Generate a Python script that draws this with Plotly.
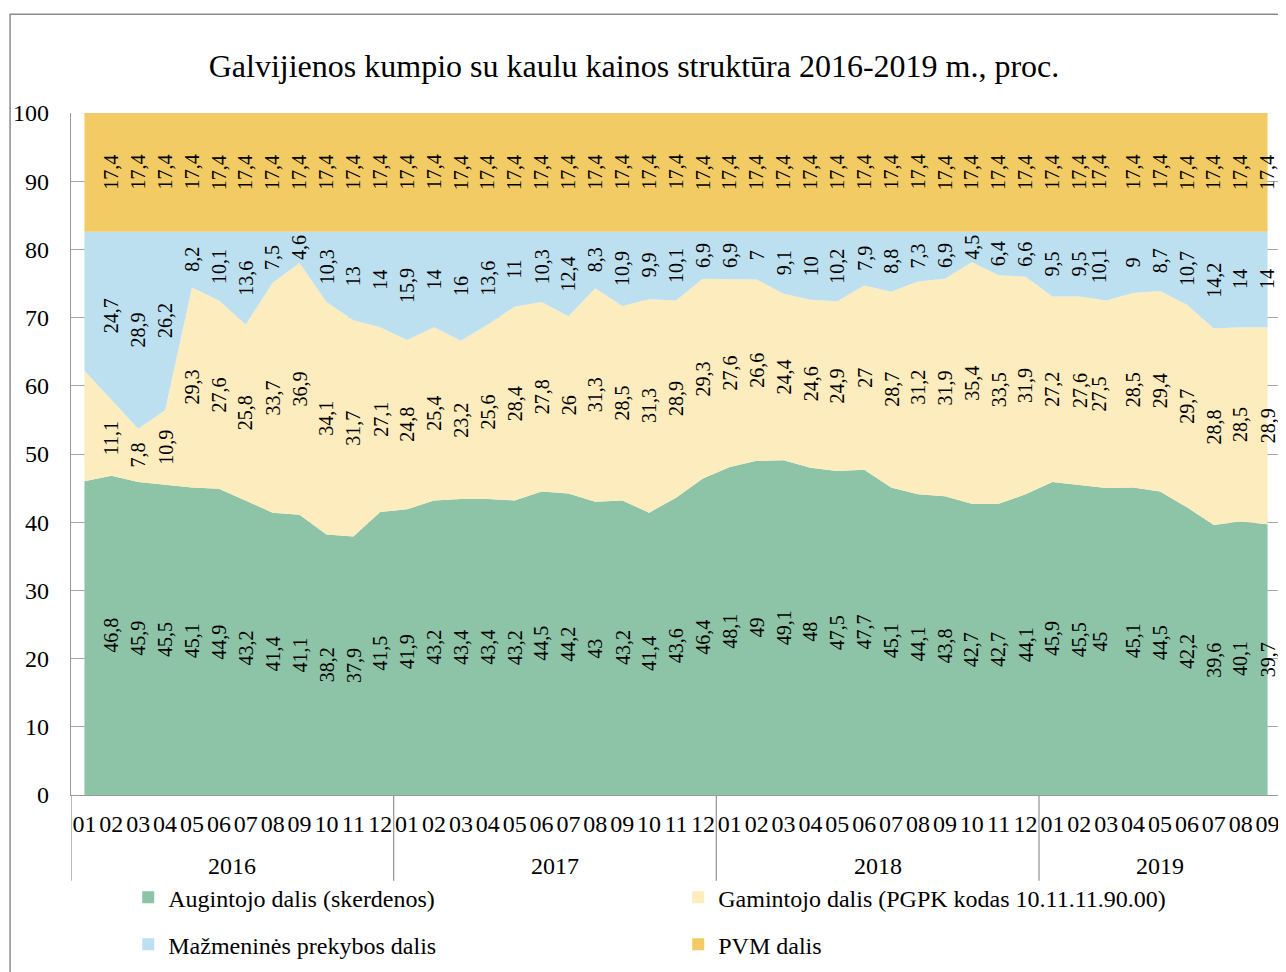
import plotly.graph_objects as go

years = ["2016"] * 12 + ["2017"] * 12 + ["2018"] * 12 + ["2019"] * 9
months = [f"{m:02d}" for m in range(1, 13)] * 3 + [f"{m:02d}" for m in range(1, 10)]

augintojo = [46.0, 46.8, 45.9, 45.5, 45.1, 44.9, 43.2, 41.4, 41.1, 38.2, 37.9, 41.5,
             41.9, 43.2, 43.4, 43.4, 43.2, 44.5, 44.2, 43.0, 43.2, 41.4, 43.6, 46.4,
             48.1, 49.0, 49.1, 48.0, 47.5, 47.7, 45.1, 44.1, 43.8, 42.7, 42.7, 44.1,
             45.9, 45.5, 45.0, 45.1, 44.5, 42.2, 39.6, 40.1, 39.7]
gamintojo = [16.2, 11.1, 7.8, 10.9, 29.3, 27.6, 25.8, 33.7, 36.9, 34.1, 31.7, 27.1,
             24.8, 25.4, 23.2, 25.6, 28.4, 27.8, 26.0, 31.3, 28.5, 31.3, 28.9, 29.3,
             27.6, 26.6, 24.4, 24.6, 24.9, 27.0, 28.7, 31.2, 31.9, 35.4, 33.5, 31.9,
             27.2, 27.6, 27.5, 28.5, 29.4, 29.7, 28.8, 28.5, 28.9]
mazmenine = [20.4, 24.7, 28.9, 26.2, 8.2, 10.1, 13.6, 7.5, 4.6, 10.3, 13.0, 14.0,
             15.9, 14.0, 16.0, 13.6, 11.0, 10.3, 12.4, 8.3, 10.9, 9.9, 10.1, 6.9,
             6.9, 7.0, 9.1, 10.0, 10.2, 7.9, 8.8, 7.3, 6.9, 4.5, 6.4, 6.6,
             9.5, 9.5, 10.1, 9.0, 8.7, 10.7, 14.2, 14.0, 14.0]
pvm = [17.4] * 45

series_names = ["Augintojo dalis (skerdenos)",
                "Gamintojo dalis (PGPK kodas 10.11.11.90.00)",
                "Mažmeninės prekybos dalis",
                "PVM dalis"]
series_values = [augintojo, gamintojo, mazmenine, pvm]
colors = ["#8DC3A7", "#FDECBE", "#BDE0F0", "#F3CB64"]

FONT = "Liberation Serif"
GRAY = "#9a9a9a"

categories = [f"{y}-{m}" for y, m in zip(years, months)]
n = len(categories)

fig = go.Figure()
for name, vals, col in zip(series_names, series_values, colors):
    fig.add_trace(go.Scatter(
        x=categories, y=vals, name=name, mode="lines", stackgroup="one",
        line=dict(width=0, color=col), fillcolor=col, showlegend=False,
        hoverinfo="skip"))

# legend-only swatches
for k, (name, col) in enumerate(zip(series_names, colors)):
    fig.add_trace(go.Bar(
        x=[None], y=[None], name=name, marker=dict(color=col, line=dict(width=0)),
        xaxis="x2", yaxis="y2", legend="legend" if k < 2 else "legend2"))


def fmt(v):
    return str(int(v)) if float(v).is_integer() else str(v).replace(".", ",")


annotations = []
for i in range(1, n):
    base = 0.0
    shift = -7 if i == 38 else 0
    for vals in series_values:
        v = vals[i]
        annotations.append(dict(
            x=i, y=base + v / 2, xref="x", yref="y", text=fmt(v),
            showarrow=False, textangle=-90, xshift=shift,
            font=dict(family=FONT, size=20, color="black")))
        base += v

# year group labels and dividers
year_list = sorted(set(years))
shapes = []
bounds = [-0.5]
for yv in year_list:
    idx = [i for i, y in enumerate(years) if y == yv]
    annotations.append(dict(
        x=(idx[0] + idx[-1]) / 2, y=(797 - 868) / 684, xref="x", yref="paper",
        text=yv, showarrow=False, yanchor="middle",
        font=dict(family=FONT, size=24, color="black")))
    bounds.append(idx[-1] + 0.5)
for b in bounds:
    shapes.append(dict(type="line", xref="x", yref="paper", x0=b, x1=b,
                       y0=0, y1=(797 - 883) / 684,
                       line=dict(color=GRAY, width=1.3)))

# outer chart frame
shapes.append(dict(type="rect", xref="paper", yref="paper",
                   x0=-61 / 1212, x1=1.05, y0=-0.3, y1=(797 - 14) / 684,
                   line=dict(color="#8c8c8c", width=1.5), fillcolor="rgba(0,0,0,0)",
                   layer="below"))

W, H = 1278, 964
fig.update_layout(
    width=W, height=H,
    margin=dict(l=61, r=5, t=105, b=175),
    paper_bgcolor="white", plot_bgcolor="white",
    font=dict(family=FONT, size=24, color="black"),
    title=dict(text="Galvijienos kumpio su kaulu kainos struktūra 2016-2019 m., proc.",
               x=626 / W, xref="container", xanchor="center",
               y=1 - 58 / H, yref="container", yanchor="middle",
               font=dict(family=FONT, size=32, color="black")),
    xaxis=dict(type="category", range=[-0.5, n - 0.5],
               tickmode="array", tickvals=categories, ticktext=months,
               tickfont=dict(family=FONT, size=24, color="black"),
               showline=True, linecolor=GRAY, linewidth=1.3,
               showgrid=False, tickangle=0, ticks="", ticklabelstandoff=7,
               zeroline=False),
    yaxis=dict(range=[0, 100], dtick=10, tickfont=dict(family=FONT, size=24, color="black"),
               showgrid=True, gridcolor="#a6a6a6", gridwidth=1.3,
               showline=True, linecolor=GRAY, linewidth=1.3,
               ticks="", ticklabelstandoff=16, zeroline=False),
    xaxis2=dict(visible=False, overlaying="x"),
    yaxis2=dict(visible=False, overlaying="y"),
    legend=dict(orientation="h", x=0.0473, xanchor="left", y=-0.1506, yanchor="middle",
                entrywidth=505, traceorder="normal",
                font=dict(family=FONT, size=24, color="black"),
                bgcolor="rgba(0,0,0,0)"),
    legend2=dict(orientation="h", x=0.0473, xanchor="left", y=-0.2193, yanchor="middle",
                 entrywidth=505, traceorder="normal",
                 font=dict(family=FONT, size=24, color="black"),
                 bgcolor="rgba(0,0,0,0)"),
    annotations=annotations,
    shapes=shapes,
)

fig.write_html("out.html")
